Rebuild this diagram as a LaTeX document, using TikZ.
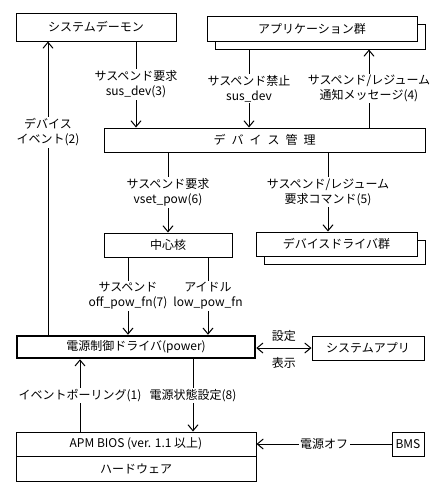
\documentclass[tikz,border=0pt]{standalone}
\usepackage{fontspec}
\setmainfont{Noto Sans CJK JP}
\usetikzlibrary{arrows.meta}
\tikzset{
  box/.style={draw, line width=1pt, fill=white, inner sep=0pt, anchor=center},
  arr/.style={line width=1pt, -{Straight Barb[length=6pt,width=10pt,line width=1pt]}},
  darr/.style={line width=1pt, {Straight Barb[length=6pt,width=10pt,line width=1pt]}-{Straight Barb[length=6pt,width=10pt,line width=1pt]}},
  lbl/.style={fill=white, inner sep=1.5pt, align=center},
  plain/.style={inner sep=1pt, align=center},
}
\begin{document}
\begin{tikzpicture}[x=1pt, y=-1pt, font=\fontsize{12}{15}\selectfont]
\useasboundingbox (0,0) rectangle (440,496);
\fill[white] (0,0) rectangle (440,496);
% boxes
\node[box, minimum width=160pt, minimum height=28pt] (daemon) at (96,27) {システムデーモン};
\node[box, minimum width=210pt, minimum height=25pt] (appsback) at (320,36.5) {};
\node[box, minimum width=210pt, minimum height=25pt] (apps) at (312,28.5) {アプリケーション群};
\node[box, minimum width=321pt, minimum height=24pt] (devmgmt) at (264.5,140) {デ\hspace{6pt}バ\hspace{6pt}イ\hspace{6pt}ス\hspace{6pt}管\hspace{6pt}理\hspace{12pt}};
\node[box, minimum width=128pt, minimum height=24pt] (core) at (168,245) {中心核};
\node[box, minimum width=161pt, minimum height=24pt] (drvback) at (344.5,252) {};
\node[box, minimum width=161pt, minimum height=24pt] (drivers) at (336.5,244) {デバイスドライバ群};
\node[box, line width=2.5pt, minimum width=238pt, minimum height=22pt] (power) at (136,347) {電源制御ドライバ(power)};
\node[box, minimum width=112pt, minimum height=24pt] (sysapp) at (368,348) {システムアプリ};
\node[box, minimum width=240pt, minimum height=24pt] (apm) at (136,444) {APM BIOS (ver. 1.1 以上)};
\node[box, minimum width=240pt, minimum height=25pt] (hw) at (136,468.5) {ハードウェア};
\node[box, minimum width=32pt, minimum height=24pt] (bms) at (408,444) {BMS};
% connectors
\draw[arr] (136,0 |- daemon.south) -- node[lbl] {サスペンド要求\\sus\_dev(3)} (136,0 |- devmgmt.north);
\draw[arr] (249,0 |- appsback.south) -- node[lbl] {サスペンド禁止\\sus\_dev} (249,0 |- devmgmt.north);
\draw[arr] (369,0 |- devmgmt.north) -- node[lbl] {サスペンド/レジューム\\通知メッセージ(4)} (369,0 |- appsback.south);
\draw[arr] (48,0 |- power.north) -- node[lbl, pos=0.69] {デバイス\\イベント(2)} (48,0 |- daemon.south);
\draw[arr] (168,0 |- devmgmt.south) -- node[lbl] {サスペンド要求\\vset\_pow(6)} (168,0 |- core.north);
\draw[arr] (328,0 |- devmgmt.south) -- node[lbl] {サスペンド/レジューム\\要求コマンド(5)} (328,0 |- drivers.north);
\draw[arr] (128,0 |- core.south) -- node[lbl] {サスペンド\\off\_pow\_fn(7)} (128,0 |- power.north);
\draw[arr] (208,0 |- core.south) -- node[lbl] {アイドル\\low\_pow\_fn} (208,0 |- power.north);
\draw[darr] (power.east |- 0,348) -- node[plain, above=5pt] {設定} node[plain, below=8pt] {表示} (sysapp.west |- 0,348);
\draw[arr] (80,0 |- apm.north) -- node[lbl] {イベントポーリング(1)} (80,0 |- power.south);
\draw[arr] (193,0 |- power.south) -- node[lbl] {電源状態設定(8)} (193,0 |- apm.north);
\draw[arr] (bms.west) -- node[lbl] {電源オフ} (apm.east);
\end{tikzpicture}
\end{document}
